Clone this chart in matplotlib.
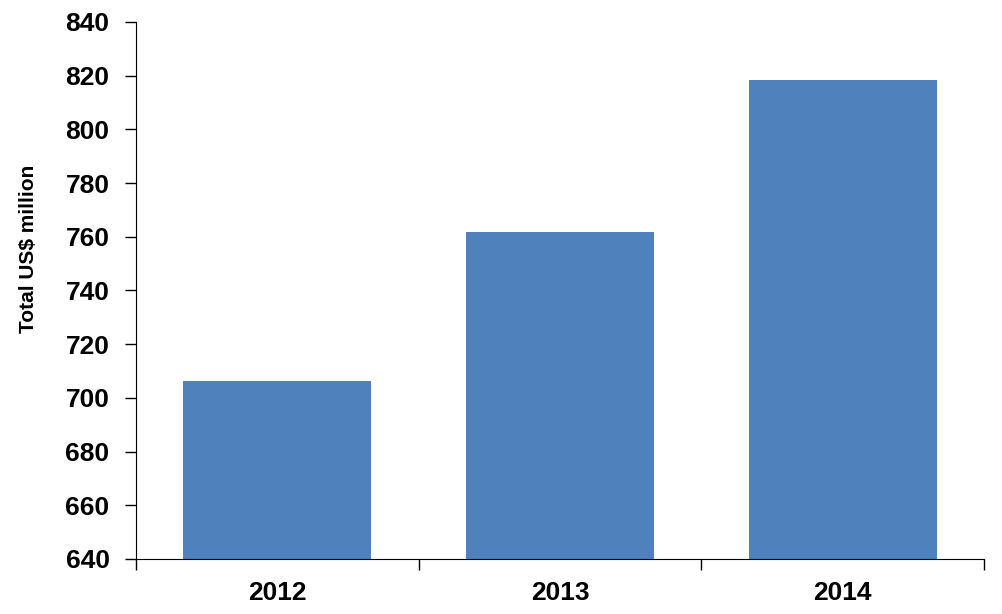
import numpy as np
import matplotlib
matplotlib.use("Agg")
import matplotlib.pyplot as plt

years = ["2012", "2013", "2014"]
values = [706.3, 761.8, 818.4]
y_ticks = list(range(640, 841, 20))

plt.rcParams['font.family'] = ['Liberation Sans', 'DejaVu Sans']
plt.rcParams['font.weight'] = 'bold'

fig = plt.figure(figsize=(10.03, 6.14), dpi=100)
ax = fig.add_axes([0.1356, 0.0896, 0.8455, 0.8746])

x = np.arange(len(years))
ax.bar(x, values, width=0.665, color="#4F81BD", zorder=2)

ax.set_xlim(-0.5, len(years) - 0.5)
ax.set_ylim(640, 840)
ax.set_yticks(y_ticks)
ax.set_yticklabels([str(t) for t in y_ticks], fontsize=19, fontweight='bold')

# category labels centred, ticks at category boundaries
ax.set_xticks(np.arange(-0.5, len(years), 1.0))
ax.set_xticklabels([])
ax.set_xticks(x, minor=True)
ax.set_xticklabels(years, minor=True, fontsize=19, fontweight='bold')
ax.tick_params(axis='x', which='minor', length=0, pad=16)
ax.tick_params(axis='x', which='major', length=8, width=1, direction='out')
ax.tick_params(axis='y', length=8, width=1, direction='out', pad=11)

ax.spines['top'].set_visible(False)
ax.spines['right'].set_visible(False)

ax.set_ylabel("Total US$ million", fontsize=15, fontweight='bold')
ax.yaxis.set_label_coords(-0.115, 0.577)

fig.savefig("out.png", dpi=100)
